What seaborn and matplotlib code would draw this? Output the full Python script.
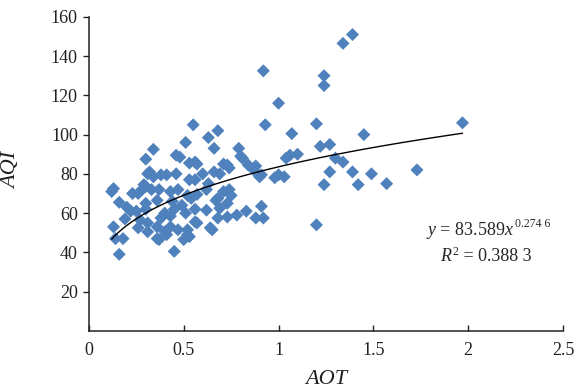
import numpy as np
import pandas as pd
import matplotlib
matplotlib.use("Agg")
import matplotlib.pyplot as plt
import seaborn as sns

# AOT vs AQI scatter values
AOT = [1.39, 1.34, 1.24, 1.24, 1.20, 1.97, 1.45, 1.22, 1.27, 1.10,
       1.30, 1.34, 1.27, 1.39, 1.49, 1.73, 1.24, 1.42, 1.57, 1.20,
       1.07, 1.06, 1.03, 0.92, 1.00, 0.55, 0.93, 0.68, 0.63, 0.51,
       0.34, 0.66, 0.79, 0.30, 0.46, 0.48, 0.56, 0.73, 0.80, 0.88,
       1.04, 0.31, 0.69, 1.00, 0.12, 0.16, 0.34, 0.46, 0.53, 0.57,
       0.56, 0.41, 0.26, 0.30, 0.37, 0.43, 0.52, 0.63, 0.71, 0.74,
       0.66, 0.71, 0.75, 0.84, 0.87, 0.90, 0.98, 0.22, 0.30, 0.36,
       0.27, 0.31, 0.36, 0.40, 0.37, 0.43, 0.13, 0.14, 0.18, 0.16,
       0.45, 0.51, 0.50, 0.52, 0.56, 0.62, 0.65, 0.68, 0.69, 0.73,
       0.78, 0.83, 0.88, 0.91, 0.92, 0.67, 0.32, 0.38, 0.53, 0.13,
       0.29, 0.28, 0.33, 0.25, 0.30, 0.38, 0.43, 0.26, 0.31, 0.36,
       0.41, 0.47, 0.52, 0.49, 0.54, 0.74, 0.68, 0.73, 0.57, 0.56,
       0.64, 0.57, 0.53, 0.81, 0.91, 0.20, 0.23, 0.44, 0.47, 0.60,
       0.40, 0.45, 0.19, 0.62]
AQI = [151, 146.5, 130, 125, 105.5, 106, 100, 94, 95, 90,
       88, 86, 81, 81, 80, 82, 74.5, 74.5, 75, 54,
       100.5, 89.5, 78.5, 132.5, 116, 105, 105, 102, 98.5, 96,
       92.5, 93, 93, 87.5, 89.5, 88.5, 86, 84.5, 89, 84,
       88, 80, 80, 79.5, 71, 65.5, 78.5, 80, 85.5, 85,
       77, 79.5, 70, 73.5, 72, 71, 69, 75, 85, 83,
       81, 71, 69, 84.5, 82, 78.5, 78, 61, 65, 66.5,
       56.5, 55, 53, 50.5, 46.5, 53, 53, 47, 47, 39,
       40.5, 60, 46.5, 51.5, 55.5, 61.5, 51.5, 57.5, 62.5, 58,
       59, 61, 57.5, 63.5, 57.5, 66.5, 81, 79.5, 77, 72.5,
       74.5, 72, 72, 61, 62, 57.5, 58.5, 52.5, 50.5, 47,
       49, 51.5, 49, 64, 67.5, 72, 67.5, 65, 69.5, 62,
       52.5, 55, 48, 88, 79.5, 63, 70, 66, 72, 80,
       60, 62, 57, 72]

# power trendline shown on the chart: y = a * x^b
COEF_A = 83.589
COEF_B = 0.2746
EQ_MAIN = r'$y$ = 83.589$x$'
EQ_SUP = '0.274 6'
R2_MAIN = r'$R$'
R2_SUP = '2'
R2_REST = ' = 0.388 3'

X_TICKS = [0, 0.5, 1, 1.5, 2, 2.5]
X_LABELS = ['0', '0.5', '1', '1.5', '2', '2.5']
Y_TICKS = [20, 40, 60, 80, 100, 120, 140, 160]

sns.set_theme(style='white')
plt.rcParams['font.family'] = ['Liberation Serif', 'DejaVu Serif']
plt.rcParams['mathtext.fontset'] = 'custom'
plt.rcParams['mathtext.rm'] = 'Liberation Serif'
plt.rcParams['mathtext.it'] = 'Liberation Serif:italic'

df = pd.DataFrame({'AOT': AOT, 'AQI': AQI})

fig, ax = plt.subplots(figsize=(5.81, 3.92), dpi=100)
fig.subplots_adjust(left=0.153, right=0.969, bottom=0.156, top=0.957)

sns.scatterplot(data=df, x='AOT', y='AQI', marker='D', s=44,
                color='#4f81bd', edgecolor='none', linewidth=0, ax=ax)

# trendline over the range of the data
xs = np.linspace(df['AOT'].min(), df['AOT'].max(), 200)
ax.plot(xs, COEF_A * xs ** COEF_B, color='black', lw=1.0)

# equation and R^2 with small superscripts
t1 = ax.text(2.01, 51, EQ_MAIN, ha='center', va='center', fontsize=13)
ax.annotate(EQ_SUP, xy=(1, 1), xycoords=t1, xytext=(0.5, 1.5),
            textcoords='offset points', ha='left', va='top', fontsize=8.5)
t2 = ax.text(1.92, 38, R2_MAIN, ha='right', va='center', fontsize=13)
t3 = ax.annotate(R2_SUP, xy=(1, 1), xycoords=t2, xytext=(0, 1.5),
                 textcoords='offset points', ha='left', va='top', fontsize=8.5)
ax.annotate(R2_REST, xy=(1, 0), xycoords=(t3, t2), ha='left', va='bottom',
            fontsize=13)

ax.set_xlim(0, 2.5)
ax.set_ylim(0, 160)
ax.set_xticks(X_TICKS)
ax.set_xticklabels(X_LABELS)
ax.set_yticks(Y_TICKS)

for side in ['top', 'right']:
    ax.spines[side].set_visible(False)
for side in ['left', 'bottom']:
    ax.spines[side].set_color('#222222')
    ax.spines[side].set_linewidth(1.1)

ax.tick_params(axis='x', direction='in', length=4, width=1, pad=8,
               labelsize=13, colors='#222222', bottom=True)
ax.tick_params(axis='y', direction='out', length=4, width=1, pad=4,
               labelsize=13, colors='#222222', left=True)

ax.set_xlabel('AOT', fontsize=16, fontstyle='italic', color='#222222')
ax.set_ylabel('AQI', fontsize=16, fontstyle='italic', color='#222222')
ax.xaxis.set_label_coords(0.5, -0.125)
ax.yaxis.set_label_coords(-0.143, 0.51)

plt.savefig('out.png', dpi=100, facecolor='white')
